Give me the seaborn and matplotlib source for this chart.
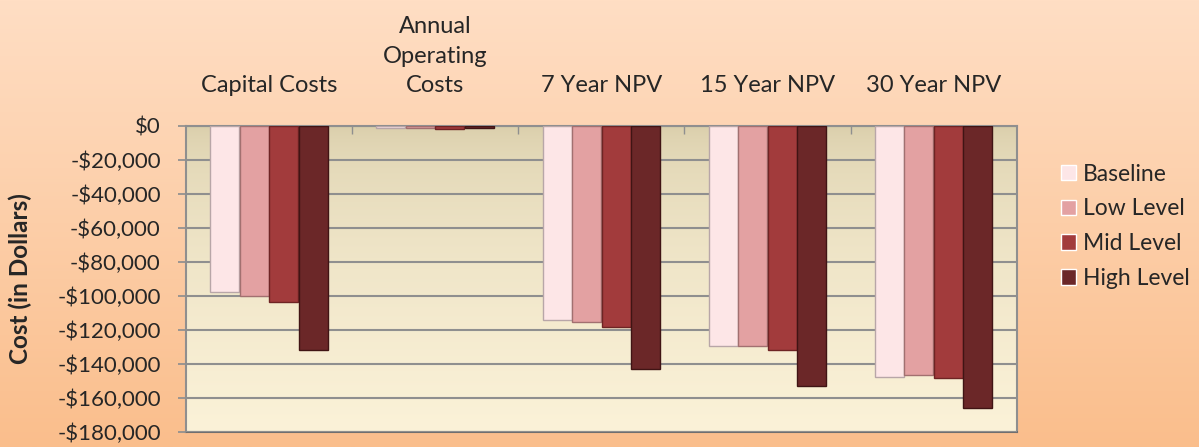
import numpy as np
import pandas as pd
import matplotlib
matplotlib.use("Agg")
import matplotlib.pyplot as plt
import seaborn as sns
from matplotlib.ticker import FuncFormatter, FixedLocator

# data
categories = ["Capital Costs", "Annual\nOperating\nCosts", "7 Year NPV", "15 Year NPV", "30 Year NPV"]
levels = ["Baseline", "Low Level", "Mid Level", "High Level"]
baseline = [-97600, -1500, -114500, -129800, -148000]
low_level = [-100000, -1700, -115600, -129800, -146900]
mid_level = [-103500, -1800, -118600, -131800, -148600]
high_level = [-132000, -1600, -143000, -153300, -165900]
colors = ["#FDE6E7", "#E3A1A2", "#A23B3C", "#6B2728"]
edges = ["#B8A6A8", "#A27070", "#6E2424", "#401414"]

df = pd.DataFrame({
    "category": categories * 4,
    "level": [lv for lv in levels for _ in categories],
    "cost": baseline + low_level + mid_level + high_level,
})

sns.set_theme(style="white")
plt.rcParams["font.family"] = ["Lato", "DejaVu Sans"]

fig = plt.figure(figsize=(11.99, 4.47), dpi=100)

# figure background gradient
bg = fig.add_axes([0, 0, 1, 1], zorder=-10)
grad = np.linspace(0, 1, 256).reshape(-1, 1)
top_c = np.array([255, 222, 196]) / 255
bot_c = np.array([250, 190, 140]) / 255
img = top_c + (bot_c - top_c) * grad[..., None]
bg.imshow(img, aspect="auto", extent=[0, 1, 0, 1])
bg.axis("off")

ax = fig.add_axes([0.155, 0.034, 0.693, 0.685])
ax.set_facecolor("none")

sns.barplot(data=df, x="category", y="cost", hue="level", order=categories,
            hue_order=levels, palette=colors, width=0.71, gap=0.02,
            saturation=1, ax=ax, zorder=3)

for i, cont in enumerate(ax.containers):
    for bar in cont:
        bar.set_edgecolor(edges[i])
        bar.set_linewidth(1.0)

ax.set_ylim(-180000, 0)
ax.set_xlim(-0.5, 4.5)

# plot-area gradient (tan at top, cream at bottom)
pa_top = np.array([216, 204, 168]) / 255
pa_bot = np.array([251, 242, 216]) / 255
g2 = np.linspace(0, 1, 256).reshape(-1, 1)
pa = pa_top + (pa_bot - pa_top) * np.sqrt(g2)[..., None]
ax.imshow(pa, aspect="auto", extent=[-0.5, 4.5, -180000, 0], zorder=0)

ax.set_yticks(np.arange(-180000, 1, 20000))
ax.yaxis.set_major_formatter(FuncFormatter(
    lambda v, p: "$0" if v == 0 else f"-${abs(v):,.0f}"))
ax.grid(axis="y", color="#8f8f8f", linewidth=1.5, zorder=1)
ax.set_axisbelow(False)
for ln in ax.get_ygridlines():
    ln.set_zorder(1)

ax.xaxis.tick_top()
ax.set_xlabel("")
ax.set_ylabel("Cost (in Dollars)", fontsize=17.5, fontweight="bold")
ax.yaxis.set_label_coords(-0.185, 0.5)
ax.tick_params(axis="x", top=False, labelsize=17, pad=15)
ax.tick_params(axis="y", left=True, length=6, color="#8f8f8f", labelsize=16, pad=12)
for t in ax.get_xticklabels():
    t.set_linespacing(1.5)
ax.xaxis.set_minor_locator(FixedLocator([0.5, 1.5, 2.5, 3.5]))
ax.tick_params(axis="x", which="minor", top=True, direction="in", length=6, color="#8f8f8f")

for s in ax.spines.values():
    s.set_color("#8f8f8f")
    s.set_linewidth(1.5)
ax.spines["bottom"].set_color("#6f6f6f")

handles, labels = ax.get_legend_handles_labels()
ax.legend_.remove()
fig.legend(handles, labels, loc="upper left", bbox_to_anchor=(0.868, 0.68),
           frameon=False, fontsize=16.5, handlelength=0.65, handleheight=0.65,
           handletextpad=0.3, labelspacing=0.6)

fig.savefig("out.png", dpi=100)
